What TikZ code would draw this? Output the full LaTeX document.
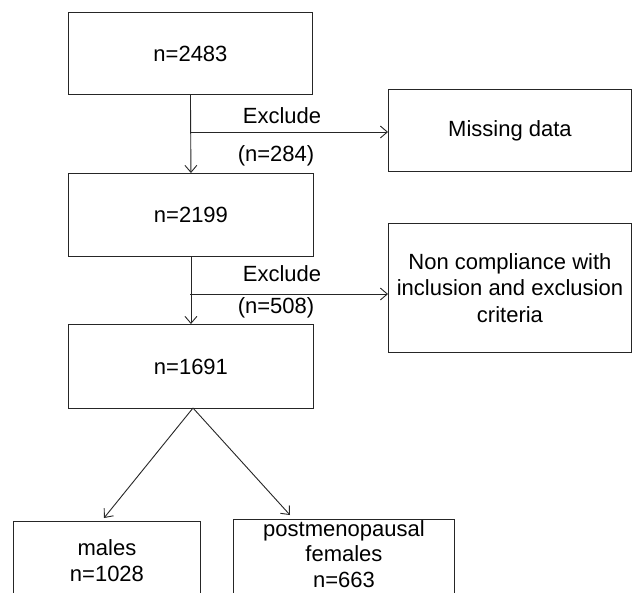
\documentclass[tikz,border=0pt]{standalone}
\usepackage{fontspec}
\setmainfont{Liberation Sans}
\usetikzlibrary{arrows.meta,calc}
\begin{document}
\begin{tikzpicture}[x=1pt,y=-1pt,
  box/.style={draw=black!85, line width=0.9pt, rectangle, inner sep=0pt, anchor=north west, align=center, font=\fontsize{22}{26.5}\selectfont},
  lbl/.style={inner sep=0pt, font=\fontsize{22}{26.5}\selectfont},
  frame/.style={draw=black!85, line width=0.9pt},
  conn/.style={draw=black!85, line width=0.9pt, -{Straight Barb[length=7pt,width=12pt,line width=0.9pt]}}
]
\clip (0,0) rectangle (634,592);
\fill[white] (0,0) rectangle (634,592);
\node[box, minimum width=244pt, minimum height=82pt] (b1) at (68,12) {n=2483};
\node[box, minimum width=245pt, minimum height=83pt] (b2) at (68,173) {n=2199};
\node[box, minimum width=245pt, minimum height=84pt] (b3) at (68,324) {n=1691};
\node[box, minimum width=243pt, minimum height=82pt] (miss) at (388,89) {Missing data};
\node[box, minimum width=243pt, minimum height=129pt] (nc) at (388,223) {Non compliance with\\inclusion and exclusion\\criteria};
\node[box, minimum width=187pt, minimum height=78pt] (males) at (13,521) {males\\n=1028};
\node[box, draw=none, minimum width=221pt, minimum height=69pt, font=\fontsize{22}{25.5}\selectfont] (pm) at (233,519) {postmenopausal\\females\\n=663};
\draw[frame] (pm.north west) rectangle (454,600);
\node[lbl] (ex1) at (282,116) {Exclude};
\node[lbl] (n1) at (276,156) {(n=284)};
\node[lbl] (ex2) at (282,274) {Exclude};
\node[lbl] (n2) at (276,308) {(n=508)};
\coordinate (j1) at (190,132);
\coordinate (j2) at (190,294);
\coordinate (top3) at (193,408);
\draw[conn] (b1.south) -- (b2.north);
\draw[conn] (j1) -- (miss.west |- j1);
\draw[conn] (b2.south) -- (b3.north);
\draw[conn] (j2) -- (nc.west |- j2);
\draw[conn] (top3) -- ($(males.north west)+(91,-3)$);
\draw[conn] (top3) -- ($(pm.north west)+(57,-4)$);
\end{tikzpicture}
\end{document}
